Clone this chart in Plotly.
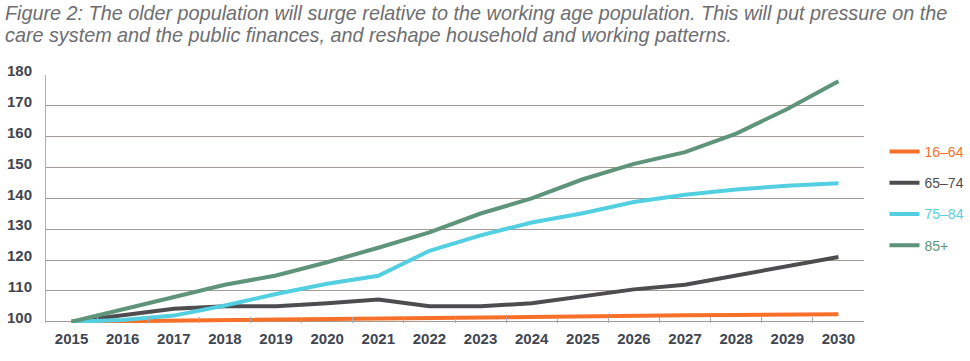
import plotly.graph_objects as go

years = [str(y) for y in range(2015, 2031)]
age_16_64 = [100, 100.2, 100.4, 100.6, 100.7, 100.9, 101.1, 101.3, 101.5, 101.7, 101.9, 102.0, 102.1, 102.2, 102.3, 102.4]
age_65_74 = [100, 102, 104.2, 105, 105, 106, 107.2, 105, 105, 106, 108.4, 110.5, 112, 115, 118, 121]
age_75_84 = [100, 100.6, 102, 105.3, 109, 112.3, 114.9, 123, 128, 132.2, 135.2, 138.8, 141.2, 142.9, 144.1, 144.9]
age_85_plus = [100, 104, 108, 112, 115, 119.3, 124, 129, 135.1, 140, 146.2, 151.2, 155, 161, 169, 178]

series = [
    ("16–64", age_16_64, "#F7702A"),
    ("65–74", age_65_74, "#4D4D4F"),
    ("75–84", age_75_84, "#52CFE0"),
    ("85+", age_85_plus, "#5E9479"),
]

title_lines = [
    "Figure 2: The older population will surge relative to the working age population. This will put pressure on the",
    "care system and the public finances, and reshape household and working patterns.",
]

L, R, T, B = 46, 105.5, 75, 38
PW = 970 - L - R
PH = 361 - T - B

fig = go.Figure()
for name, vals, col in series:
    fig.add_trace(go.Scatter(
        x=years, y=vals, name=f"<span style='color:{col}'>{name}</span>", mode="lines",
        line=dict(color=col, width=4),
        legendgroup=name,
    ))

title_font = dict(family="Liberation Sans, Arial, sans-serif", size=19.8, color="#6d6e71", style="italic")
annotations = []
for i, line in enumerate(title_lines):
    top_px = 0 + 22 * i
    annotations.append(dict(
        text=line, showarrow=False,
        xref="paper", yref="paper",
        x=(3 - L) / PW, xanchor="left",
        y=(361 - B - top_px) / PH, yanchor="top",
        align="left", font=title_font,
    ))

fig.update_layout(
    width=970, height=361,
    margin=dict(l=L, r=R, t=T, b=B, autoexpand=False),
    paper_bgcolor="white", plot_bgcolor="white",
    font=dict(family="Liberation Sans, Arial, sans-serif"),
    showlegend=True,
    legend=dict(
        x=1 + (885 - (970 - R)) / PW, xanchor="left",
        y=(361 - B - 136) / PH, yanchor="top",
        font=dict(size=14),
        tracegroupgap=10,
        bgcolor="rgba(0,0,0,0)",
        itemclick=False,
    ),
    annotations=annotations,
)

fig.update_xaxes(
    type="category", range=[-0.5, 15.5], automargin=False,
    showgrid=False, showline=False,
    ticks="inside", tickson="boundaries", ticklen=6, tickcolor="#aaaaaa", tickwidth=1,
    tickfont=dict(size=15, color="#3f4651", weight="bold"),
    ticklabelstandoff=5,
    fixedrange=True,
)
fig.update_yaxes(
    range=[99.6, 180], tickvals=list(range(100, 181, 10)), automargin=False,
    showgrid=True, gridcolor="#a39c95", gridwidth=1,
    showline=True, linecolor="#b0b0b0", linewidth=1,
    zeroline=False,
    tickfont=dict(size=15, color="#3f4651", weight="bold"),
    ticklabelstandoff=10, ticklabelshift=-4,
    fixedrange=True,
)

fig.write_html(
    "out.html",
    config={"displayModeBar": False},
    post_script="document.body.style.margin='0';document.body.style.overflow='hidden';",
)
